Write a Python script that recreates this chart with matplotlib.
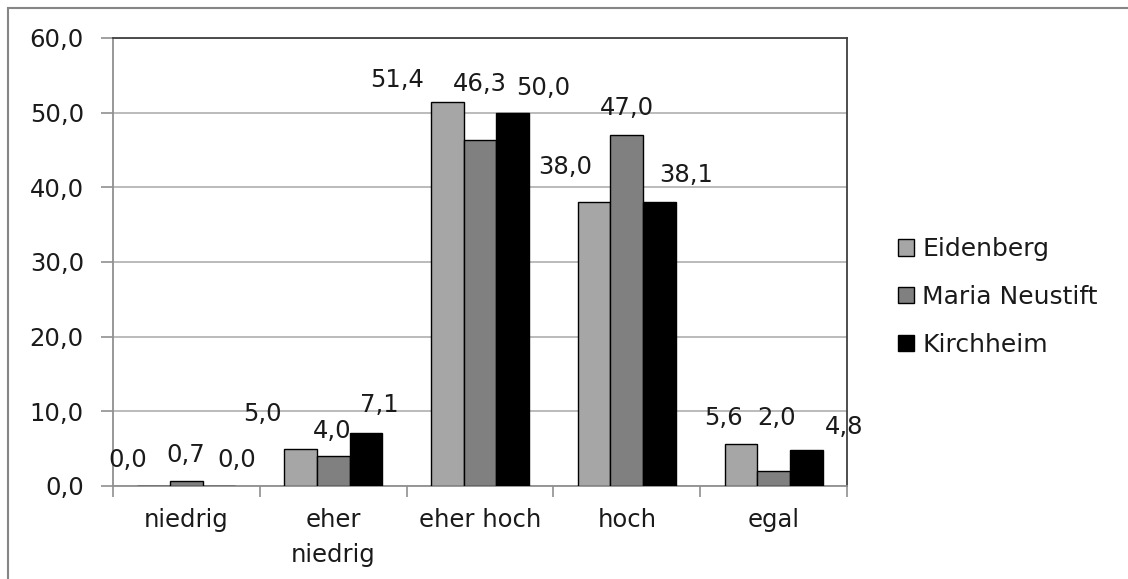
import matplotlib
matplotlib.use("Agg")
import matplotlib.pyplot as plt
from matplotlib.patches import Rectangle
import numpy as np

categories = ["niedrig", "eher\nniedrig", "eher hoch", "hoch", "egal"]
series_names = ["Eidenberg", "Maria Neustift", "Kirchheim"]
eidenberg = [0.0, 5.0, 51.4, 38.0, 5.6]
maria_neustift = [0.7, 4.0, 46.3, 47.0, 2.0]
kirchheim = [0.0, 7.1, 50.0, 38.1, 4.8]
y_ticks = [0, 10, 20, 30, 40, 50, 60]

series_values = [eidenberg, maria_neustift, kirchheim]
colors = ["#a6a6a6", "#808080", "#000000"]

# hand-placed label offsets (pixels from the top-centre of each bar)
label_offsets = [
    [(-26, 26), (-38, 35), (-50, 22), (-29, 35), (-17, 26)],
    [(-1, 26), (-1, 25), (0, 56), (0, 27), (3, 53)],
    [(18, 26), (13, 28), (31, 25), (27, 27), (38, 23)],
]

W, H, DPI = 1128, 579, 100
fig = plt.figure(figsize=(W / DPI, H / DPI), dpi=DPI)
plt.rcParams["font.family"] = ["DejaVu Sans"]

left, right, top, bottom = 113, 847, 38, 486
ax = fig.add_axes([left / W, 1 - bottom / H, (right - left) / W, (bottom - top) / H])

x = np.arange(len(categories))
bw = 0.2225
for i, (name, vals, col) in enumerate(zip(series_names, series_values, colors)):
    pos = x + (i - 1) * bw
    ax.bar(pos, vals, width=bw, color=col, edgecolor="#000000", linewidth=1.0,
           label=name, zorder=3)
    for j, v in enumerate(vals):
        dx, dy = label_offsets[i][j]
        ax.annotate(f"{v:.1f}".replace(".", ","), xy=(pos[j], v),
                    xytext=(dx, dy), textcoords="offset pixels",
                    ha="center", va="center", fontsize=17.5, color="#1a1a1a",
                    zorder=5, annotation_clip=False)

ax.set_xlim(-0.5, len(categories) - 0.5)
ax.set_ylim(0, 60)
ax.set_yticks(y_ticks)
ax.set_yticklabels([f"{t:.1f}".replace(".", ",") for t in y_ticks], fontsize=17.5,
                   color="#1a1a1a")
ax.yaxis.grid(True, color="#a8a8a8", linewidth=1.1, zorder=0)
ax.set_axisbelow(True)

# category ticks sit on group boundaries, names centred under groups
ax.set_xticks(np.arange(len(categories) + 1) - 0.5)
ax.set_xticklabels([])
ax.set_xticks(x, minor=True)
ax.set_xticklabels(categories, minor=True, fontsize=17.5, color="#1a1a1a",
                   linespacing=1.55, va="top")
ax.tick_params(axis="x", which="minor", length=0, pad=16)
ax.tick_params(axis="x", which="major", length=8, width=1.2, color="#909090",
               direction="out")
ax.tick_params(axis="y", length=9, width=1.2, color="#909090", pad=12)

for s in ["left", "bottom"]:
    ax.spines[s].set_color("#909090")
    ax.spines[s].set_linewidth(1.3)
for s in ["top", "right"]:
    ax.spines[s].set_color("#404040")
    ax.spines[s].set_linewidth(1.3)

leg = fig.legend(loc="center left", bbox_to_anchor=(898 / W, 1 - 297 / H),
                 frameon=False, fontsize=18, handlelength=0.62, handleheight=0.62,
                 handletextpad=0.35, labelspacing=0.95, borderpad=0,
                 borderaxespad=0)
for t in leg.get_texts():
    t.set_color("#1a1a1a")

# outer chart border
fig.patches.append(Rectangle((8 / W, -0.2), 1.2, 1.2 - 8.5 / H, transform=fig.transFigure,
                             fill=False, edgecolor="#868686", linewidth=1.5))

fig.savefig("out.png", dpi=DPI, facecolor="white")
